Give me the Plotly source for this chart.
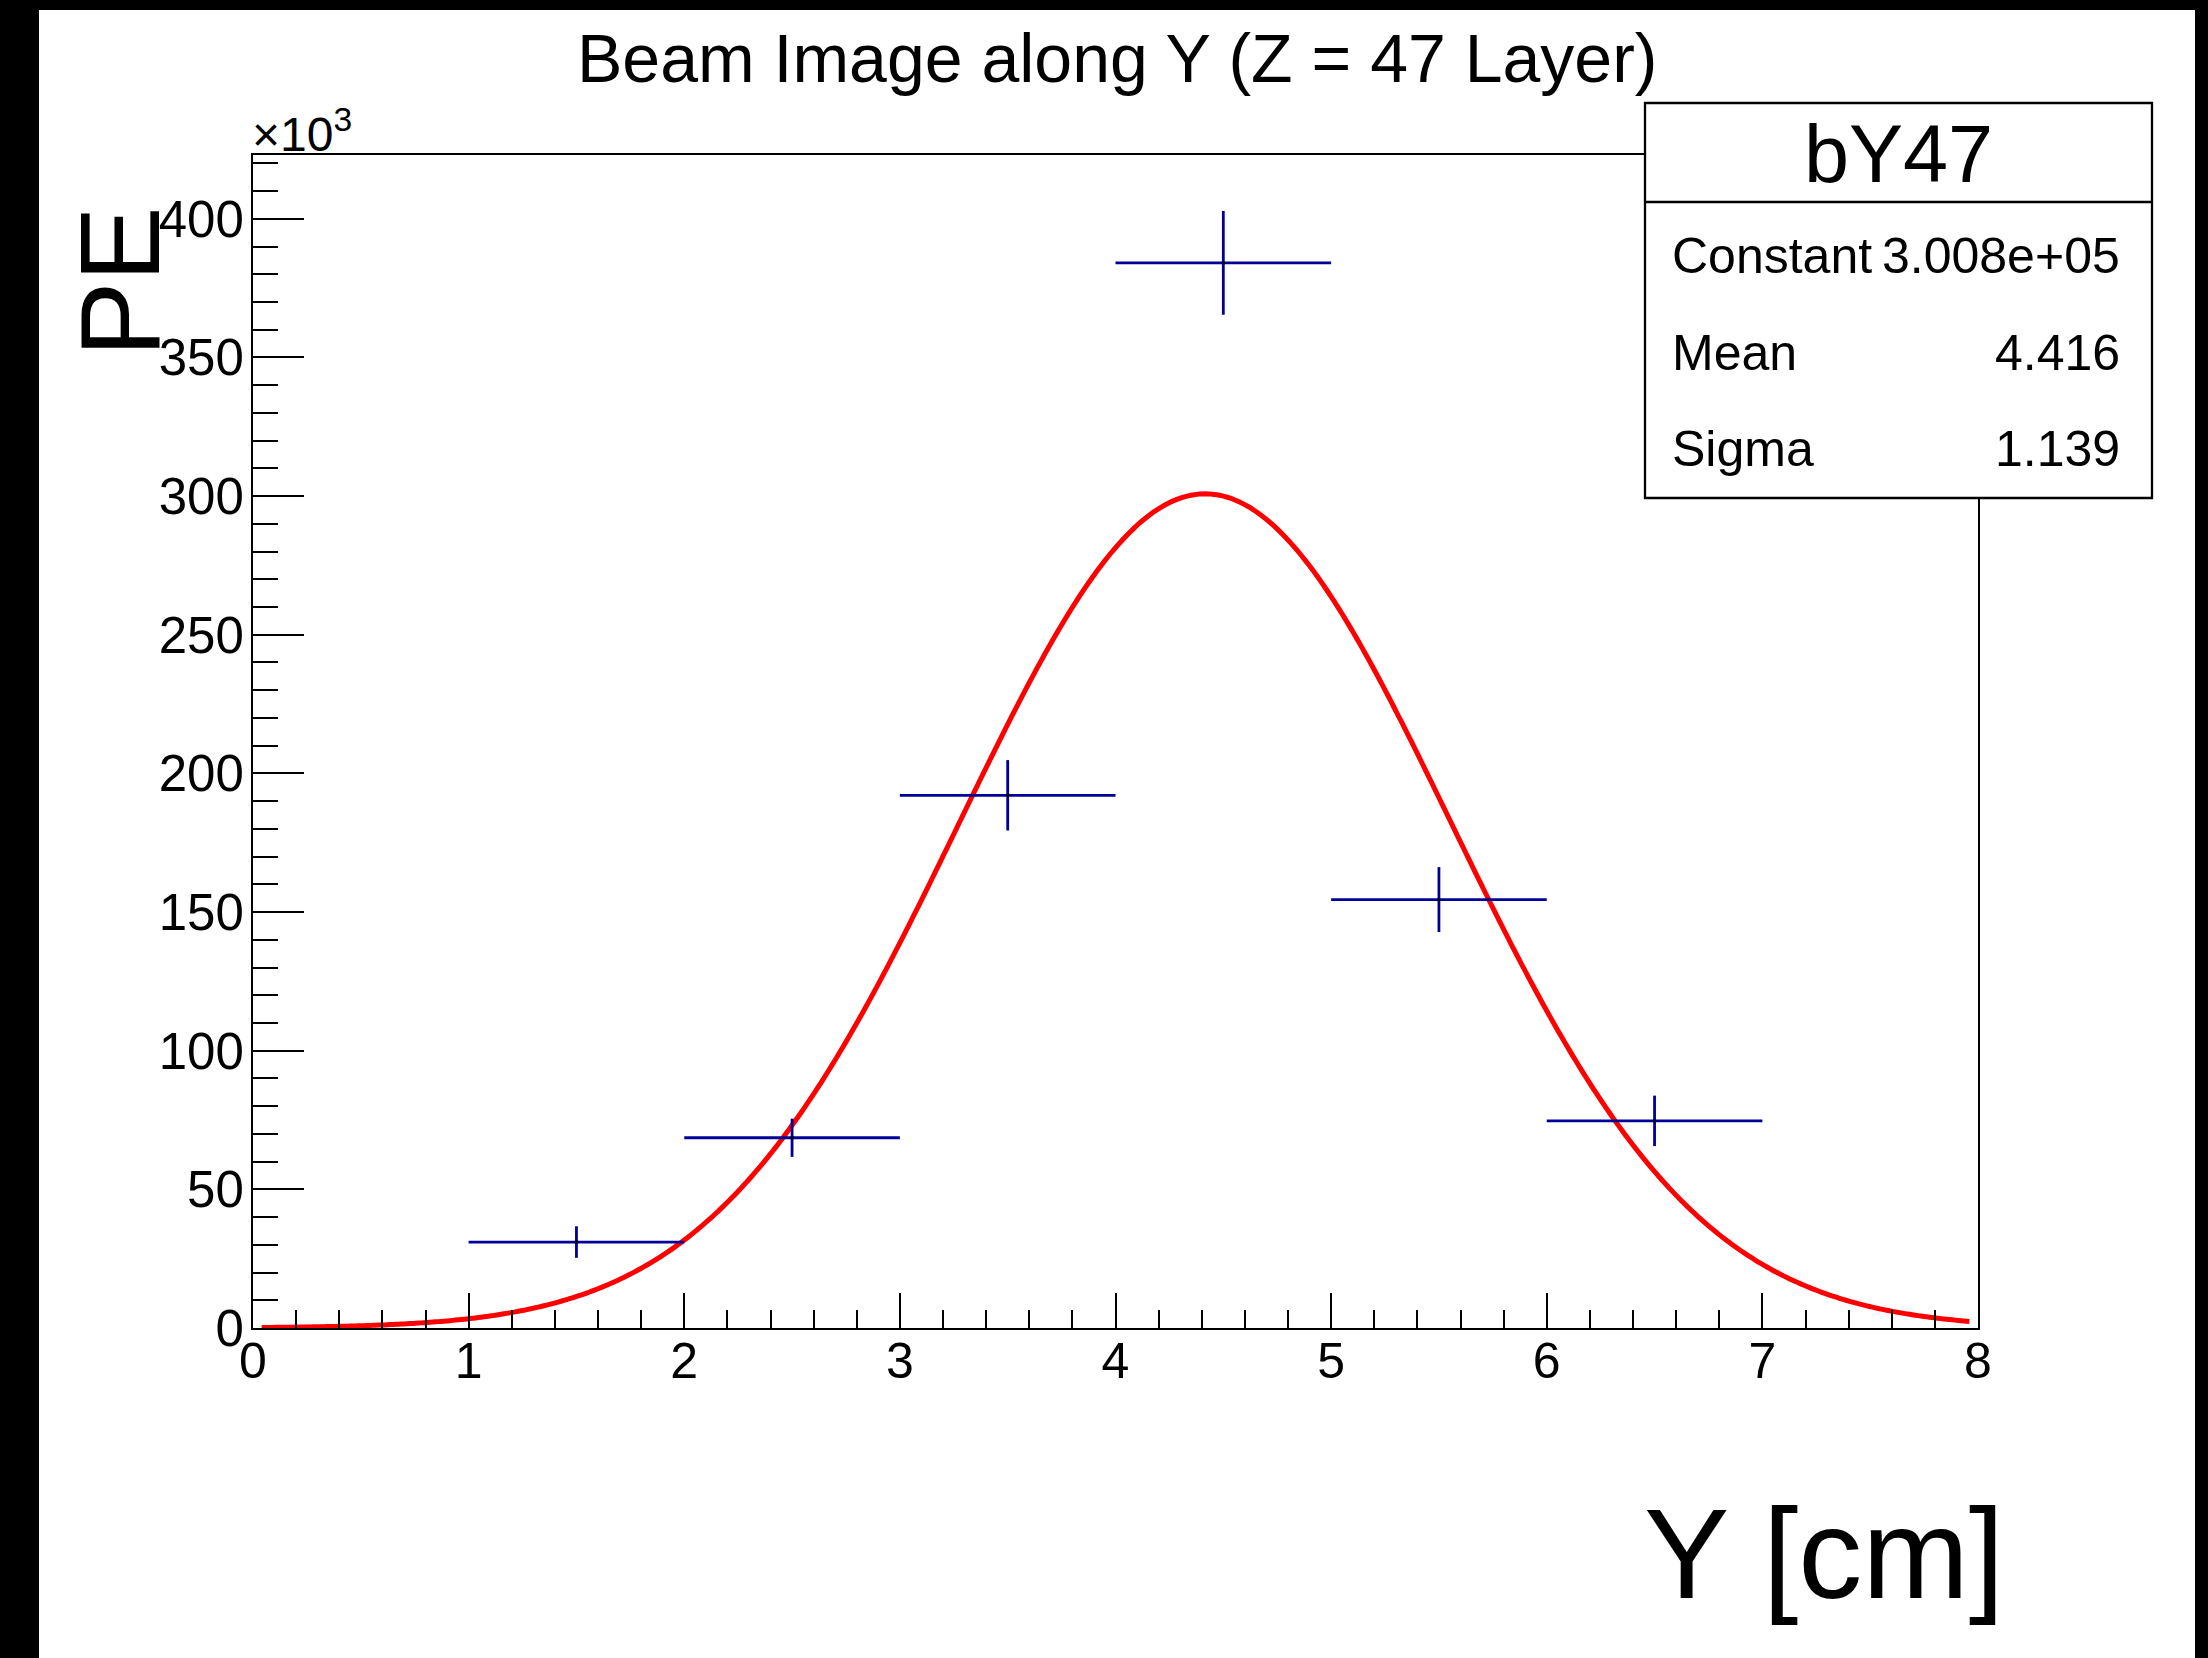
import numpy as np
import plotly.graph_objects as go

# Histogram bins along Y [cm] and photo-electron counts per bin
bin_low = [1, 2, 3, 4, 5, 6]
bin_high = [2, 3, 4, 5, 6, 7]
pe_counts = [31000, 68600, 192100, 384100, 154500, 74700]
pe_errors = [5700, 6900, 12700, 18700, 11700, 9100]

# Gaussian fit results
fit_name = "bY47"
fit_constant = 3.008e5
fit_mean = 4.416
fit_sigma = 1.139
fit_range = [0.04, 7.96]

# Axis ticks
y_tick_vals = [0, 50000, 100000, 150000, 200000, 250000, 300000, 350000, 400000]
y_tick_text = ["0", "50", "100", "150", "200", "250", "300", "350", "400"]
x_tick_vals = [0, 1, 2, 3, 4, 5, 6, 7, 8]

W, H = 2208, 1658
ML, MR, MT, MB = 253, 230, 155, 330
PW, PH = W - ML - MR, H - MT - MB
FONT = "Liberation Sans, Arial, Helvetica, sans-serif"


def px(x):
    return (x - ML) / PW


def py(y):
    return (H - MB - y) / PH


centers = [(a + b) / 2 for a, b in zip(bin_low, bin_high)]
half_w = [(b - a) / 2 for a, b in zip(bin_low, bin_high)]

xf = np.linspace(fit_range[0], fit_range[1], 600)
yf = fit_constant * np.exp(-0.5 * ((xf - fit_mean) / fit_sigma) ** 2)

fig = go.Figure()
fig.add_trace(go.Scatter(
    x=xf, y=yf, mode="lines",
    line=dict(color="#ff0000", width=5, simplify=False),
    hoverinfo="skip", showlegend=False,
))
fig.add_trace(go.Scatter(
    x=centers, y=pe_counts, mode="markers",
    marker=dict(color="black", size=3, symbol="square"),
    error_x=dict(type="data", array=half_w, symmetric=True,
                 color="#000099", thickness=2.8, width=0),
    error_y=dict(type="data", array=pe_errors, symmetric=True,
                 color="#000099", thickness=2.8, width=0),
    showlegend=False,
))

axis_common = dict(
    showgrid=False, zeroline=False, showline=True, linecolor="black",
    linewidth=2, mirror=True, ticks="inside", tickcolor="black",
    tickwidth=2,
)

fig.update_xaxes(
    range=[0, 8], tickmode="array", tickvals=x_tick_vals, ticklen=35,
    minor=dict(dtick=0.2, tick0=0, ticklen=18, tickwidth=2,
               tickcolor="black", ticks="inside"),
    tickfont=dict(family=FONT, size=50, color="black"),
    ticklabelstandoff=-12,
    **axis_common,
)
fig.update_yaxes(
    range=[0, 423000], tickmode="array", tickvals=y_tick_vals,
    ticktext=y_tick_text, ticklen=51,
    minor=dict(dtick=10000, tick0=0, ticklen=25, tickwidth=2,
               tickcolor="black", ticks="inside"),
    tickfont=dict(family=FONT, size=51, color="black"),
    ticklabelstandoff=-3,
    **axis_common,
)

shapes = []
# Dark canvas edges
for x0, x1, y0, y1 in [(0, 39, 0, H), (0, W, 0, 10), (2195, W, 0, H)]:
    shapes.append(dict(type="rect", xref="paper", yref="paper",
                       x0=px(x0), x1=px(x1), y0=py(y1), y1=py(y0),
                       fillcolor="black", line=dict(width=0), layer="above"))
# Fit statistics box
shapes.append(dict(type="rect", xref="paper", yref="paper",
                   x0=px(1645), x1=px(2152), y0=py(498), y1=py(103),
                   fillcolor="white", line=dict(color="black", width=2.3),
                   layer="above"))
shapes.append(dict(type="line", xref="paper", yref="paper",
                   x0=px(1645), x1=px(2152), y0=py(202), y1=py(202),
                   line=dict(color="black", width=2.3), layer="above"))

ann = []


def text(s, x, y, size, xanchor="center", yanchor="middle", angle=0):
    ann.append(dict(text=s, x=px(x), y=py(y), xref="paper", yref="paper",
                    xanchor=xanchor, yanchor=yanchor, showarrow=False,
                    textangle=angle,
                    font=dict(family=FONT, size=size, color="black")))


text("Beam Image along Y (Z = 47 Layer)", 1117, 58, 68)
text("×10<sup>3</sup>", 250, 131, 48, xanchor="left")
text("PE", 120, 282, 113, angle=-90)
text("Y [cm]", 2006, 1553, 128, xanchor="right")
text(fit_name, 1898, 154, 81)
rows = [("Constant", f"{fit_constant:.3e}", 256),
        ("Mean", f"{fit_mean:.3f}", 353),
        ("Sigma", f"{fit_sigma:.3f}", 449)]
for label, val, yy in rows:
    text(label, 1670, yy, 50, xanchor="left")
    text(val, 2122, yy, 50, xanchor="right")

fig.update_layout(
    width=W, height=H,
    margin=dict(l=ML, r=MR, t=MT, b=MB, pad=0),
    paper_bgcolor="white", plot_bgcolor="white",
    shapes=shapes, annotations=ann,
)

fig.write_html("out.html")
